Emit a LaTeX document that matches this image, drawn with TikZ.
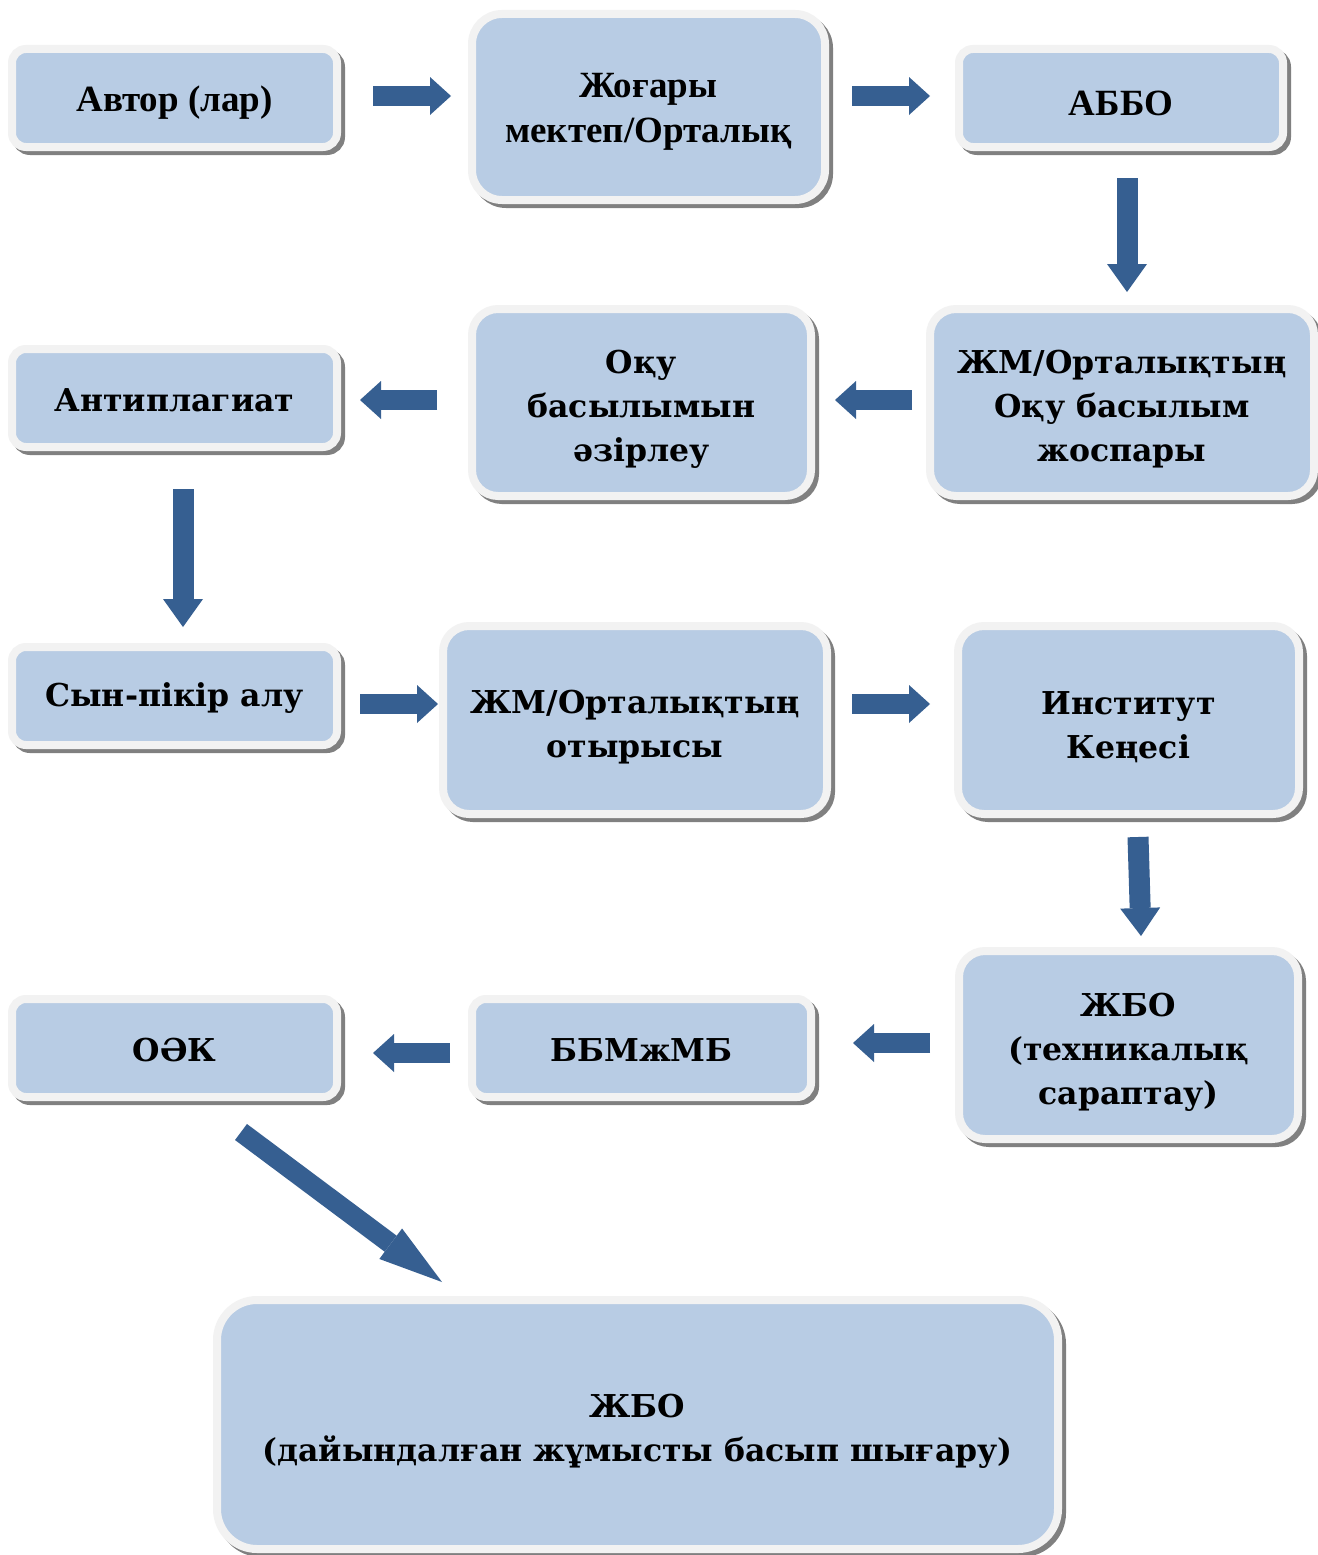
\documentclass[tikz,border=0pt]{standalone}
\usepackage{fontspec}
\usetikzlibrary{arrows.meta}
\newfontfamily\tmsfont{Liberation Serif}
\newfontfamily\cmbfont{DejaVu Serif}
\definecolor{boxblue}{HTML}{B8CCE4}
\definecolor{boxframe}{HTML}{F2F2F2}
\definecolor{shadowgray}{HTML}{808080}
\definecolor{arrowblue}{HTML}{365F91}
\tikzset{
  fbox/.style={rounded corners=#1, fill=boxblue, draw=boxframe, line width=8pt,
    inner sep=0pt,
    preaction={draw=shadowgray, fill=shadowgray, line width=8pt,
      transform canvas={shift={(4pt,-4pt)}}}},
  tms/.style={font=\tmsfont\bfseries\fontsize{37}{45}\selectfont, align=center,
    inner sep=0pt, yshift=-5pt},
  cmb/.style={font=\cmbfont\bfseries\fontsize{31.5}{44}\selectfont, align=center,
    inner sep=0pt, yshift=-7pt},
  cmbone/.style={cmb, yshift=5pt},
  harrow/.style={draw=arrowblue, line width=20pt,
    -{Triangle[width=38pt,length=21pt,line width=0pt,fill=arrowblue]}},
  varrow/.style={draw=arrowblue, line width=21pt,
    -{Triangle[width=40pt,length=28pt,line width=0pt,fill=arrowblue]}},
  darrow/.style={draw=arrowblue, line width=20pt,
    -{Triangle[width=38pt,length=64pt,line width=0pt,fill=arrowblue]}},
}
% name, x1, y1, x2, y2, radius, text style, text
\newcommand\flowbox[8]{%
  \node[fbox=#6, minimum width={#4pt-#2pt-8pt}, minimum height={#5pt-#3pt-8pt}]
    (#1) at ({(#2+#4)/2},{(#3+#5)/2}) {};
  \node[#7] (#1-text) at (#1.center) {#8};}
\begin{document}
\begin{tikzpicture}[x=1pt,y=-1pt]
\useasboundingbox[fill=white] (0,0) rectangle (1317,1555);
\flowbox{b1}{8}{45}{341}{151}{14pt}{tms}{Автор (лар)}
\flowbox{b2}{468}{10}{829}{204}{30pt}{tms}{Жоғары\\мектеп/Орталық}
\flowbox{b3}{955}{45}{1287}{151}{14pt}{tms}{АББО}
\flowbox{b4}{8}{345}{341}{451}{14pt}{cmbone}{Антиплагиат}
\flowbox{b5}{468}{305}{815}{500}{26pt}{cmb}{Оқу\\басылымын\\әзірлеу}
\flowbox{b6}{926}{305}{1318}{500}{26pt}{cmb}{ЖМ/Орталықтың\\Оқу басылым\\жоспары}
\flowbox{b7}{8}{643}{341}{749}{14pt}{cmbone}{Сын-пікір алу}
\flowbox{b8}{439}{622}{831}{818}{26pt}{cmb}{ЖМ/Орталықтың\\отырысы}
\flowbox{b9}{954}{622}{1303}{818}{26pt}{cmb}{Институт\\Кеңесі}
\flowbox{b10}{8}{995}{341}{1101}{14pt}{cmbone}{ОӘК}
\flowbox{b11}{468}{995}{815}{1101}{14pt}{cmbone}{ББМжМБ}
\flowbox{b12}{955}{947}{1302}{1143}{26pt}{cmb}{ЖБО\\(техникалық\\сараптау)}
\flowbox{b13}{213}{1296}{1062}{1553}{40pt}{cmb}{ЖБО\\(дайындалған жұмысты басып шығару)}
% arrows
\draw[harrow] ([xshift=32pt,yshift=2pt]b1.east) -- ++(78pt,0pt);
\draw[harrow] ([xshift=23pt,yshift=11pt]b2.east) -- ++(78pt,0pt);
\draw[varrow] ([xshift=6pt,yshift=-27pt]b3.south) -- ++(0pt,-114pt);
\draw[harrow] ([xshift=-14pt,yshift=2.5pt]b6.west) -- ++(-77pt,0pt);
\draw[harrow] ([xshift=-31pt,yshift=2.5pt]b5.west) -- ++(-77pt,0pt);
\draw[varrow] ([xshift=8.5pt,yshift=-38pt]b4.south) -- ++(0pt,-138pt);
\draw[harrow] ([xshift=19pt,yshift=-8pt]b7.east) -- ++(78pt,0pt);
\draw[harrow] ([xshift=21pt,yshift=16pt]b8.east) -- ++(78pt,0pt);
\draw[varrow] ([xshift=9.5pt,yshift=-19pt]b9.south) -- ++(3pt,-99pt);
\draw[harrow] ([xshift=-25pt,yshift=2pt]b12.west) -- ++(-77pt,0pt);
\draw[harrow] ([xshift=-18pt,yshift=-5pt]b11.west) -- ++(-77pt,0pt);
\draw[darrow] ([xshift=66.5pt,yshift=-31pt]b10.south) -- ++(201pt,-150pt);
\end{tikzpicture}
\end{document}
